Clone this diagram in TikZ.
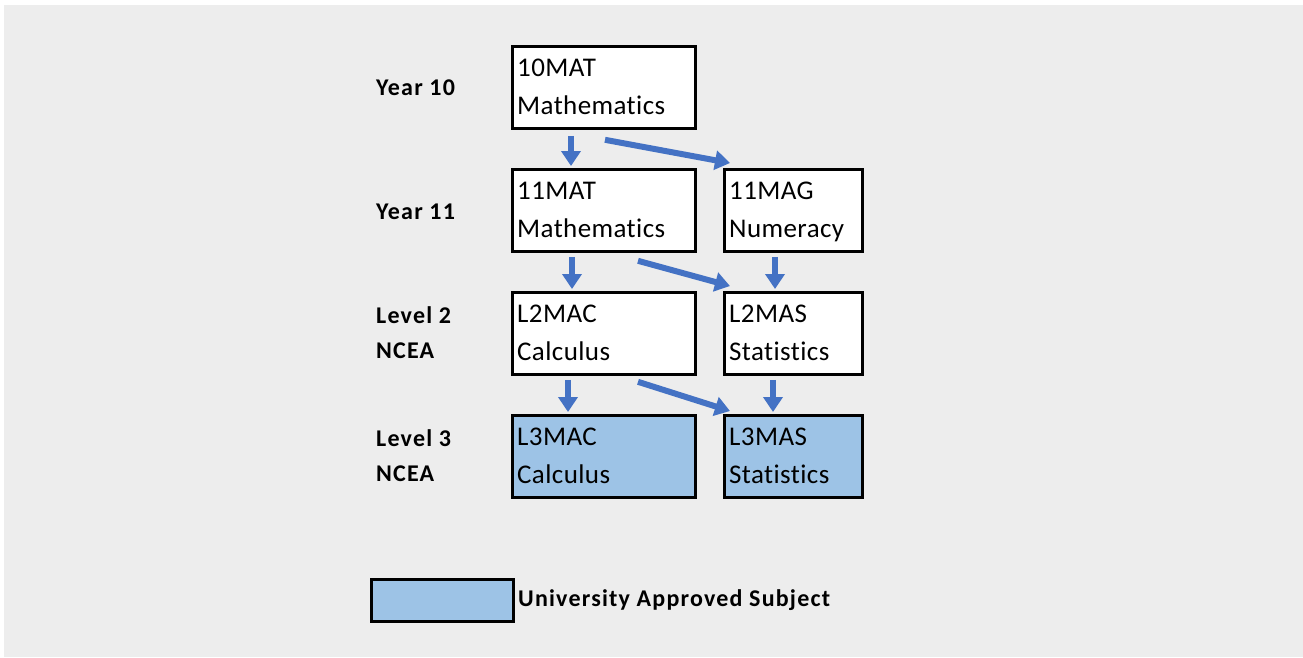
\documentclass[tikz,border=0pt]{standalone}
\usepackage{fontspec}
\setmainfont{Carlito}
\newfontfamily\boxfont[Ligatures=NoCommon,LetterSpace=1.5]{Carlito}
\newfontfamily\lblfont[Ligatures=NoCommon,LetterSpace=5]{Carlito}
\usetikzlibrary{arrows.meta,calc}
\definecolor{bggray}{HTML}{EDEDED}
\definecolor{arrowblue}{HTML}{4472C4}
\definecolor{uablue}{HTML}{9DC3E6}
\tikzset{
  subj/.style={draw=black, line width=2.8pt, fill=white, anchor=north west, inner sep=0pt},
  wide/.style={minimum width=183pt, minimum height=82pt},
  narrow/.style={minimum width=138pt, minimum height=82pt},
  ua/.style={fill=uablue},
  txt/.style={anchor=base west, inner sep=0pt, font=\boxfont\fontsize{27}{32}\selectfont},
  lvl/.style={anchor=base west, inner sep=0pt, font=\lblfont\fontsize{24}{28}\selectfont\bfseries},
  flow/.style={draw=arrowblue, line width=6pt, -{Triangle[width=19pt,length=15pt]}},
}
\begin{document}
\begin{tikzpicture}[x=1pt,y=-1pt]
\useasboundingbox (0,0) rectangle (1303,657);
\fill[bggray] (4,5) rectangle (1303,657);
% boxes
\node[subj,wide] (m10) at (511,45) {};
\node[subj,wide] (m11) at (511,168) {};
\node[subj,narrow] (g11) at (723,168) {};
\node[subj,wide] (c2) at (511,291) {};
\node[subj,narrow] (s2) at (723,291) {};
\node[subj,wide,ua] (c3) at (511,414) {};
\node[subj,narrow,ua] (s3) at (723,414) {};
% box texts
\foreach \b/\l/\m in {m10/10MAT/Mathematics, m11/11MAT/Mathematics, g11/11MAG/Numeracy, c2/L2MAC/Calculus, s2/L2MAS/Statistics, c3/L3MAC/Calculus, s3/L3MAS/Statistics}{
  \node[txt] (\b-a) at ($(\b.north west)+(6,31)$) {\l};
  \node[txt] (\b-b) at ($(\b.north west)+(6,69)$) {\m};
}
% level labels
\node[lvl] (y10) at (376,95) {Year 10};
\node[lvl] (y11) at (376,219) {Year 11};
\node[lvl] (l2a) at (376,323) {Level 2};
\node[lvl] (l2b) at (376,358) {NCEA};
\node[lvl] (l3a) at (376,446) {Level 3};
\node[lvl] (l3b) at (376,481) {NCEA};
% arrows
\draw[flow] ($(m10.south west)+(60,6)$) -- ($(m11.north west)+(60,-2)$);
\draw[flow] ($(m10.south west)+(94,10)$) -- ($(g11.north west)+(7,-5)$);
\draw[flow] ($(m11.south west)+(61,4)$) -- ($(c2.north west)+(61,-2)$);
\draw[flow] ($(m11.south west)+(127,8)$) -- ($(s2.north west)+(7,-5)$);
\draw[flow] ($(g11.south west)+(52,4)$) -- ($(s2.north west)+(52,-2)$);
\draw[flow] ($(c2.south west)+(57,4)$) -- ($(c3.north west)+(57,-2)$);
\draw[flow] ($(c2.south west)+(127,6)$) -- ($(s3.north west)+(7,-3)$);
\draw[flow] ($(s2.south west)+(50,4)$) -- ($(s3.north west)+(50,-2)$);
% legend
\node[subj,ua,minimum width=142pt,minimum height=42pt] (leg) at (370,578) {};
\node[lvl] (legt) at (518,606) {University Approved Subject};
\end{tikzpicture}
\end{document}
